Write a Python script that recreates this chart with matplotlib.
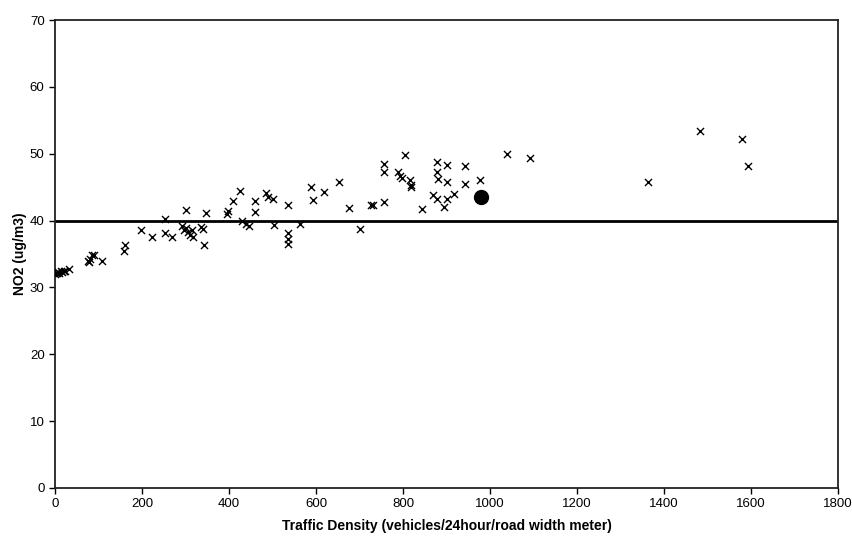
import matplotlib
matplotlib.use("Agg")
import matplotlib.pyplot as plt

plt.rcParams['font.family'] = ['Liberation Sans', 'DejaVu Sans']

traffic = [0, 2, 5, 8, 10, 13, 16, 20, 24, 31,
           75, 78, 80, 85, 90, 107,
           159, 160,
           197, 224, 252, 252, 270, 292, 296, 300, 300, 305, 310, 315, 318, 336, 341, 342, 348,
           396, 398, 410, 425, 429, 438, 447, 460, 460, 484, 490, 500, 504,
           536, 536, 536, 536, 563, 588, 592, 619, 652, 676, 700, 726, 732,
           756, 756, 756, 789, 793, 797, 805, 817, 819, 818, 843, 870, 879, 879, 880, 879,
           900, 900, 895, 900, 916, 943, 943, 977,
           1038, 1092, 1364, 1483, 1579, 1594]
no2 = [32.0, 32.2, 32.1, 32.3, 32.2, 32.4, 32.3, 32.5, 32.4, 32.8,
       34.0, 33.8, 34.3, 34.8, 34.9, 33.9,
       35.5, 36.4,
       38.6, 37.6, 40.2, 38.2, 37.5, 39.2, 38.6, 41.6, 38.9, 38.3, 37.9, 38.6, 37.5, 39.0, 38.8, 36.4, 41.2,
       41.0, 41.4, 42.9, 44.4, 39.9, 39.5, 39.2, 42.9, 41.3, 44.1, 43.6, 43.2, 39.3,
       42.3, 38.1, 37.3, 36.5, 39.5, 45.0, 43.1, 44.3, 45.8, 41.9, 38.7, 42.3, 42.3,
       42.8, 48.5, 47.3, 47.2, 46.7, 46.3, 49.8, 46.0, 45.3, 45.0, 41.7, 43.9, 48.8, 47.2, 46.2, 43.3,
       48.3, 45.7, 42.1, 43.3, 44.0, 48.1, 45.5, 46.1,
       49.9, 49.3, 45.8, 53.4, 52.2, 48.2]

highlight_x = [979]
highlight_y = [43.5]
limit_value = 40

x_ticks = list(range(0, 1801, 200))
y_ticks = list(range(0, 71, 10))

fig = plt.figure(figsize=(8.53, 5.36), dpi=100)
ax = fig.add_axes([0.0645, 0.0896, 0.918, 0.873])

ax.axhline(limit_value, color='black', linewidth=2.0, zorder=2)
ax.scatter(traffic, no2, marker='x', s=26, color='black', linewidths=1.0, zorder=3)
ax.scatter(highlight_x, highlight_y, marker='o', s=100, color='black', zorder=4)

ax.set_xlim(0, 1800)
ax.set_ylim(0, 70)
ax.set_xticks(x_ticks)
ax.set_yticks(y_ticks)
ax.tick_params(direction='out', length=4, width=1, labelsize=9.5, colors='black')
for s in ax.spines.values():
    s.set_color('#222222')
    s.set_linewidth(1.3)

ax.set_xlabel('Traffic Density (vehicles/24hour/road width meter)', fontsize=10, fontweight='bold', labelpad=6)
ax.set_ylabel('NO2 (ug/m3)', fontsize=10, fontweight='bold', labelpad=2)

fig.savefig('out.png', dpi=100)
